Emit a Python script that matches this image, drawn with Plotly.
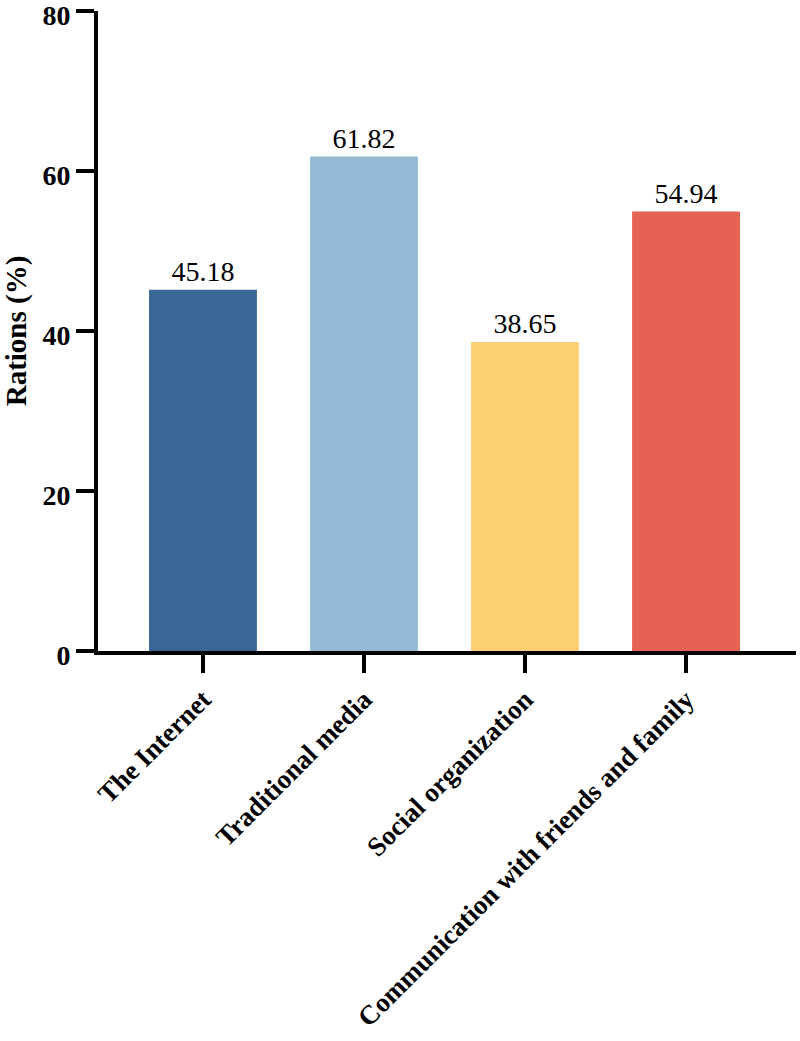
import plotly.graph_objects as go

categories = ["The Internet", "Traditional media", "Social organization",
              "Communication with friends and family"]
values = [45.18, 61.82, 38.65, 54.94]
value_labels = ["45.18", "61.82", "38.65", "54.94"]
colors = ["#386795", "#93BBD5", "#FDCF73", "#E66354"]
y_ticks = [0, 20, 40, 60, 80]

FONT = "Liberation Serif, Times New Roman, serif"

fig = go.Figure()
fig.add_trace(go.Bar(
    x=categories, y=values,
    marker=dict(color=colors, line=dict(width=0)),
    width=0.67,
    text=value_labels, textposition="outside",
    textfont=dict(family=FONT, size=28, color="black"),
    cliponaxis=False,
))

fig.update_layout(
    width=800, height=1041,
    margin=dict(l=98, r=4, t=11, b=390),
    plot_bgcolor="white", paper_bgcolor="white",
    showlegend=False,
    font=dict(family=FONT, color="black"),
    xaxis=dict(
        range=[-0.652, 3.683],
        showline=True, linecolor="black", linewidth=4,
        ticks="outside", ticklen=18, tickwidth=4, tickcolor="black",
        tickangle=-45, automargin=False,
        tickfont=dict(family=FONT, size=27, color="black", weight="bold"),
        showgrid=False, zeroline=False,
    ),
    yaxis=dict(
        range=[0, 80.02],
        tickvals=y_ticks, ticktext=[str(v) for v in y_ticks],
        showline=True, linecolor="black", linewidth=4,
        ticks="outside", ticklen=18, tickwidth=4, tickcolor="black",
        automargin=False, ticklabeloverflow="allow", ticklabelshift=4,
        tickfont=dict(family=FONT, size=28, color="black", weight="bold"),
        title=dict(text="Rations (%)", font=dict(family=FONT, size=29, color="black", weight="bold"), standoff=12),
        showgrid=False, zeroline=False,
    ),
)

fig.write_html(
    "out.html",
    config={"displayModeBar": False},
    post_script="document.body.style.margin='0';document.body.style.overflow='hidden';",
)
